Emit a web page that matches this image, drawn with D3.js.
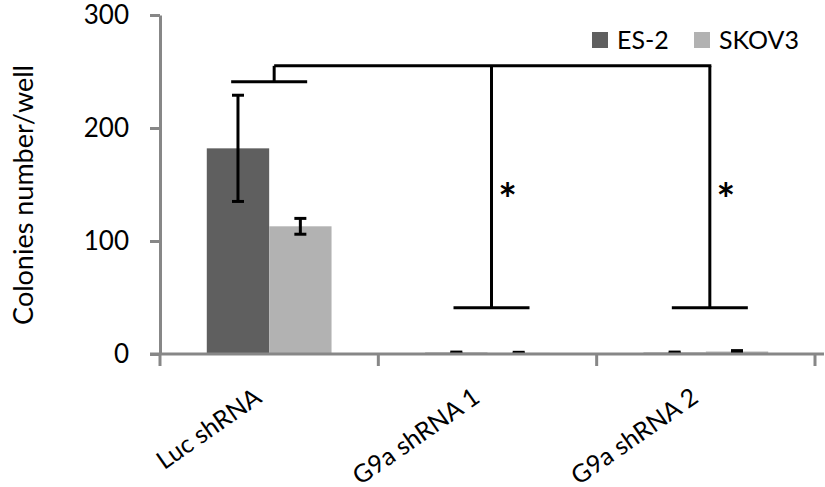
<!DOCTYPE html>
<html>
<head>
<meta charset="utf-8">
<script src="https://cdnjs.cloudflare.com/ajax/libs/d3/7.8.5/d3.min.js"></script>
<style>
  body { margin: 0; background: #fff; }
  text { font-family: Lato, "Open Sans", sans-serif; }
</style>
</head>
<body>
<div id="chart"></div>
<script>
// Data
const categories = ["Luc shRNA", "G9a shRNA 1", "G9a shRNA 2"];
const series = ["ES-2", "SKOV3"];
const es2Values = [182, 1.2, 1.2];
const es2Errors = [47, 0.5, 0.5];
const skov3Values = [113, 1.0, 2.2];
const skov3Errors = [7, 0.5, 0.8];
const yTicks = [0, 100, 200, 300];
const colors = ["#5f5f5f", "#b2b2b2"];
// significance brackets: from reference group to each test group (data units)
const bracketTop = 255;
const bracketRefLow = 241;
const bracketTargets = ["G9a shRNA 1", "G9a shRNA 2"];
const bracketTargetLow = 41;

const width = 825, height = 487;
const svg = d3.select("#chart").append("svg")
    .attr("width", width)
    .attr("height", height);

const x = d3.scaleBand().domain(categories).range([160, 815]);
const x1 = d3.scaleBand().domain(series).range([0, x.bandwidth()]).paddingOuter(0.75);
const y = d3.scaleLinear().domain([0, 300]).range([354, 15]);

const rows = categories.map((c, i) => ({
    cat: c,
    bars: [
        { s: series[0], v: es2Values[i], e: es2Errors[i], color: colors[0] },
        { s: series[1], v: skov3Values[i], e: skov3Errors[i], color: colors[1] }
    ]
}));

const axisColor = "#878787";

// y axis
const yAxis = svg.append("g")
    .attr("transform", "translate(160,0)")
    .call(d3.axisLeft(y).tickValues(yTicks).tickSize(10).tickSizeOuter(0).tickPadding(21));
yAxis.select(".domain").attr("stroke", axisColor).attr("stroke-width", 3);
yAxis.selectAll(".tick line").attr("stroke", axisColor).attr("stroke-width", 3);
yAxis.selectAll(".tick text").attr("font-size", 26).attr("fill", "#000");

// bars
const groups = svg.selectAll(".grp").data(rows).join("g")
    .attr("transform", d => `translate(${x(d.cat)},0)`);
groups.selectAll("rect").data(d => d.bars).join("rect")
    .attr("x", d => x1(d.s))
    .attr("width", x1.bandwidth())
    .attr("y", d => y(d.v))
    .attr("height", d => y(0) - y(d.v))
    .attr("fill", d => d.color);

// error bars
const err = groups.selectAll(".err").data(d => d.bars).join("g").attr("class", "err");
err.append("line")
    .attr("x1", d => x1(d.s) + x1.bandwidth() / 2)
    .attr("x2", d => x1(d.s) + x1.bandwidth() / 2)
    .attr("y1", d => y(d.v + d.e))
    .attr("y2", d => y(d.v - d.e))
    .attr("stroke", "#000").attr("stroke-width", 3);
err.selectAll(".cap").data(d => [d.v + d.e, d.v - d.e].map(v => ({ v, s: d.s }))).join("line")
    .attr("x1", d => x1(d.s) + x1.bandwidth() / 2 - 6)
    .attr("x2", d => x1(d.s) + x1.bandwidth() / 2 + 6)
    .attr("y1", d => y(d.v))
    .attr("y2", d => y(d.v))
    .attr("stroke", "#000").attr("stroke-width", 3);

// x axis
svg.append("line")
    .attr("x1", 150).attr("x2", 824)
    .attr("y1", y(0)).attr("y2", y(0))
    .attr("stroke", axisColor).attr("stroke-width", 3);
const bounds = categories.map(c => x(c)).concat([x.range()[1]]);
svg.selectAll(".xtick").data(bounds).join("line")
    .attr("x1", d => d).attr("x2", d => d)
    .attr("y1", y(0)).attr("y2", y(0) + 12)
    .attr("stroke", axisColor).attr("stroke-width", 3);

svg.selectAll(".xlab").data(categories).join("text")
    .attr("transform", d => `translate(${x(d) + x.bandwidth() / 2 - 6},${y(0) + 47}) rotate(-35)`)
    .attr("text-anchor", "end")
    .attr("font-size", 25)
    .text(d => d);

// y label
svg.append("text")
    .attr("transform", `translate(33,195) rotate(-90)`)
    .attr("text-anchor", "middle")
    .attr("font-size", 27)
    .text("Colonies number/well");

// significance brackets
const refX = x(categories[0]) + x.bandwidth() / 2;
const lowHalf = 38;
const br = svg.append("g").attr("stroke", "#000").attr("stroke-width", 3).attr("fill", "none");
br.append("line").attr("x1", refX - lowHalf).attr("x2", refX + lowHalf)
    .attr("y1", y(bracketRefLow)).attr("y2", y(bracketRefLow));
br.append("line").attr("x1", refX + 5).attr("x2", refX + 5)
    .attr("y1", y(bracketRefLow)).attr("y2", y(bracketTop));
const lastX = x(bracketTargets[bracketTargets.length - 1]) + x.bandwidth() / 2 + 4;
br.append("line").attr("x1", refX + 5).attr("x2", lastX + 1.5)
    .attr("y1", y(bracketTop)).attr("y2", y(bracketTop));
bracketTargets.forEach(t => {
    const cx = x(t) + x.bandwidth() / 2 + 4;
    br.append("line").attr("x1", cx).attr("x2", cx)
        .attr("y1", y(bracketTop)).attr("y2", y(bracketTargetLow));
    br.append("line").attr("x1", cx - lowHalf).attr("x2", cx + lowHalf)
        .attr("y1", y(bracketTargetLow)).attr("y2", y(bracketTargetLow));
    svg.append("text")
        .attr("x", cx + 16).attr("y", 215)
        .attr("text-anchor", "middle")
        .attr("font-family", "Liberation Sans")
        .attr("font-size", 44)
        .attr("font-weight", "bold")
        .text("*");
});

// legend
const legend = svg.append("g").attr("transform", "translate(592,32)");
const legX = [0, 102];
series.forEach((s, i) => {
    legend.append("rect").attr("x", legX[i]).attr("y", 0)
        .attr("width", 16).attr("height", 16).attr("fill", colors[i]);
    legend.append("text").attr("x", legX[i] + 25).attr("y", 17)
        .attr("font-size", 25).text(s);
});
</script>
</body>
</html>
